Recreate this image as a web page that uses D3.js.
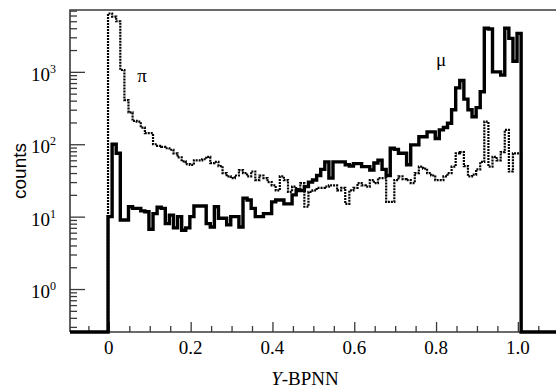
<!DOCTYPE html>
<html>
<head>
<meta charset="utf-8">
<script src="https://cdn.jsdelivr.net/npm/d3@7"></script>
<style>
  html, body { margin: 0; padding: 0; background: #fff; }
  svg { display: block; }
</style>
</head>
<body>
<svg id="chart" width="556" height="390"></svg>
<script>
// ---- data ----
const binStart = -0.002;   // left edge of first bin
const binWidth = 0.01;

// mu histogram (thick solid), counts per bin
const mu = [
  10, 100, 75, 9, 9, 13.7, 13, 13, 12, 11.7,
  6.7, 11, 13.5, 13, 8, 10.5, 7, 10, 6.5, 7,
  10, 14, 14, 14, 8, 7.2, 13.7, 9.5, 9.5, 7.7,
  10, 10, 7.2, 18, 17, 13, 10, 10, 11, 11,
  16, 17, 17, 15, 15, 20, 23, 23, 26, 30,
  32, 37, 45, 57, 34, 57, 57, 57, 52, 50,
  54, 54, 49, 49, 44, 55, 60, 45, 37, 88,
  85, 75, 75, 52, 98, 98, 127, 127, 148, 148,
  120, 158, 170, 195, 300, 600, 760, 420, 300, 240,
  320, 530, 4000, 3900, 1000, 1000, 900, 4000, 2900, 1400,
  3400
];

// pi histogram (dotted), counts per bin
const pi = [
  6400, 5800, 5000, 1060, 408, 275, 210, 205, 170, 142,
  142, 100, 95, 92, 88, 84, 75, 66, 58, 53,
  52, 60, 60, 62, 67, 55, 57, 50, 40, 36,
  34, 37, 44, 40, 36, 42, 32, 37, 34, 30,
  27, 23, 36, 32, 22, 26, 24, 29, 13.7, 22,
  23, 25, 25, 26, 27, 27, 23, 25, 15, 23,
  25, 29, 27, 26, 32, 29, 34, 34, 16, 16,
  32, 36, 33, 32, 29, 40, 49, 46, 40, 37,
  32, 32, 36, 40, 49, 75, 78, 50, 36, 38,
  45, 57, 205, 49, 67, 60, 78, 158, 42, 75,
  75
];

const xMajorTicks = [0, 0.2, 0.4, 0.6, 0.8, 1.0];
const xTickLabels = ["0", "0.2", "0.4", "0.6", "0.8", "1.0"];
const xMinorTicks = [-0.05, 0.05, 0.1, 0.15, 0.25, 0.3, 0.35, 0.45, 0.5, 0.55, 0.65, 0.7, 0.75, 0.85, 0.9, 0.95, 1.05];
const yMajorExp = [0, 1, 2, 3];
const xLabel = ["Y", "-BPNN"];
const yLabel = "counts";

// ---- layout ----
const SERIF = "'Liberation Serif', serif";
const SANS = "'Liberation Sans', sans-serif";
const svg = d3.select("#chart");
const mLeft = 70, mTop = 10, mBottom = 332;
const x = d3.scaleLinear().domain([-0.095, 1.1]).range([mLeft, mLeft + 1.195 * 409]);
const y = d3.scaleLog().domain([0.255, 7150]).range([mBottom, mTop]);
const yMin = y.domain()[0];
const axisColor = "#3a3a3a";

// minor y ticks
const yMinor = [];
for (let e = -1; e <= 3; e++) {
  for (let m = 2; m <= 9; m++) {
    const v = m * Math.pow(10, e);
    if (v >= yMin && v <= y.domain()[1]) yMinor.push(v);
  }
}

// histogram step path
function stepPoints(vals) {
  const pts = [[x.domain()[0], yMin], [binStart, yMin]];
  vals.forEach((v, i) => {
    const x0 = binStart + i * binWidth, x1 = x0 + binWidth;
    pts.push([x0, v], [x1, v]);
  });
  const end = binStart + vals.length * binWidth;
  pts.push([end, yMin], [x.domain()[1] + 0.01, yMin]);
  return pts;
}
const line = d3.line()
  .x(d => x(d[0]))
  .y(d => y(Math.max(d[1], yMin)));

// ---- axes ----
const gx = svg.append("g").attr("transform", `translate(0,${mBottom})`);
gx.call(d3.axisBottom(x).tickValues(xMajorTicks).tickSize(-10).tickFormat(""));
gx.append("g").call(d3.axisBottom(x).tickValues(xMinorTicks).tickSize(-6).tickFormat(""));
gx.selectAll(".domain").remove();
gx.selectAll("line").attr("stroke", axisColor).attr("stroke-width", 1.3);

const gy = svg.append("g").attr("transform", `translate(${mLeft},0)`);
gy.call(d3.axisLeft(y).tickValues(yMajorExp.map(e => Math.pow(10, e))).tickSize(-15).tickFormat(""));
gy.append("g").call(d3.axisLeft(y).tickValues(yMinor).tickSize(-7).tickFormat(""));
gy.selectAll(".domain").remove();
gy.selectAll("line").attr("stroke", axisColor).attr("stroke-width", 1.3);

// frame
svg.append("path")
  .attr("d", `M${mLeft},${mBottom}V${mTop}H556M${mLeft},${mBottom}H556`)
  .attr("fill", "none").attr("stroke", axisColor).attr("stroke-width", 1.6);

// x tick labels
svg.append("g").selectAll("text").data(xMajorTicks).join("text")
  .style("font-family", SERIF)
  .style("font-size", "19px")
  .attr("x", d => x(d)).attr("y", 354)
  .attr("text-anchor", "middle")
  .text((d, i) => xTickLabels[i]);

// y tick labels 10^n
const yl = svg.append("g").selectAll("text").data(yMajorExp).join("text")
  .style("font-family", SERIF)
  .style("font-size", "19px")
  .attr("x", 56).attr("y", d => y(Math.pow(10, d)) + 9)
  .attr("text-anchor", "end");
yl.append("tspan").text("10");
yl.append("tspan").style("font-size", "12px").attr("dy", -8).text(d => d);

// axis titles
const xt = svg.append("text")
  .style("font-family", SERIF)
  .style("font-size", "19px")
  .attr("x", 305).attr("y", 385)
  .attr("text-anchor", "middle");
xt.append("tspan").style("font-style", "italic").text(xLabel[0]);
xt.append("tspan").text(xLabel[1]);

svg.append("text")
  .style("font-family", SANS)
  .style("font-size", "19px")
  .attr("transform", "translate(26,171) rotate(-90)")
  .attr("text-anchor", "middle")
  .text(yLabel);

// histograms
svg.append("path")
  .attr("d", line(stepPoints(pi)))
  .attr("fill", "none").attr("stroke", "#000")
  .attr("stroke-width", 2.2)
  .attr("stroke-dasharray", "2,1");

svg.append("path")
  .attr("d", line(stepPoints(mu)))
  .attr("fill", "none").attr("stroke", "#000")
  .attr("stroke-width", 3.4)
  .attr("stroke-linejoin", "miter");

// series labels
svg.append("text").style("font-family", SERIF).style("font-size", "19px")
  .attr("x", 142).attr("y", 82)
  .attr("text-anchor", "middle").text("π");
svg.append("text").style("font-family", SERIF).style("font-size", "19px")
  .attr("x", 441).attr("y", 66)
  .attr("text-anchor", "middle").text("μ");
</script>
</body>
</html>
